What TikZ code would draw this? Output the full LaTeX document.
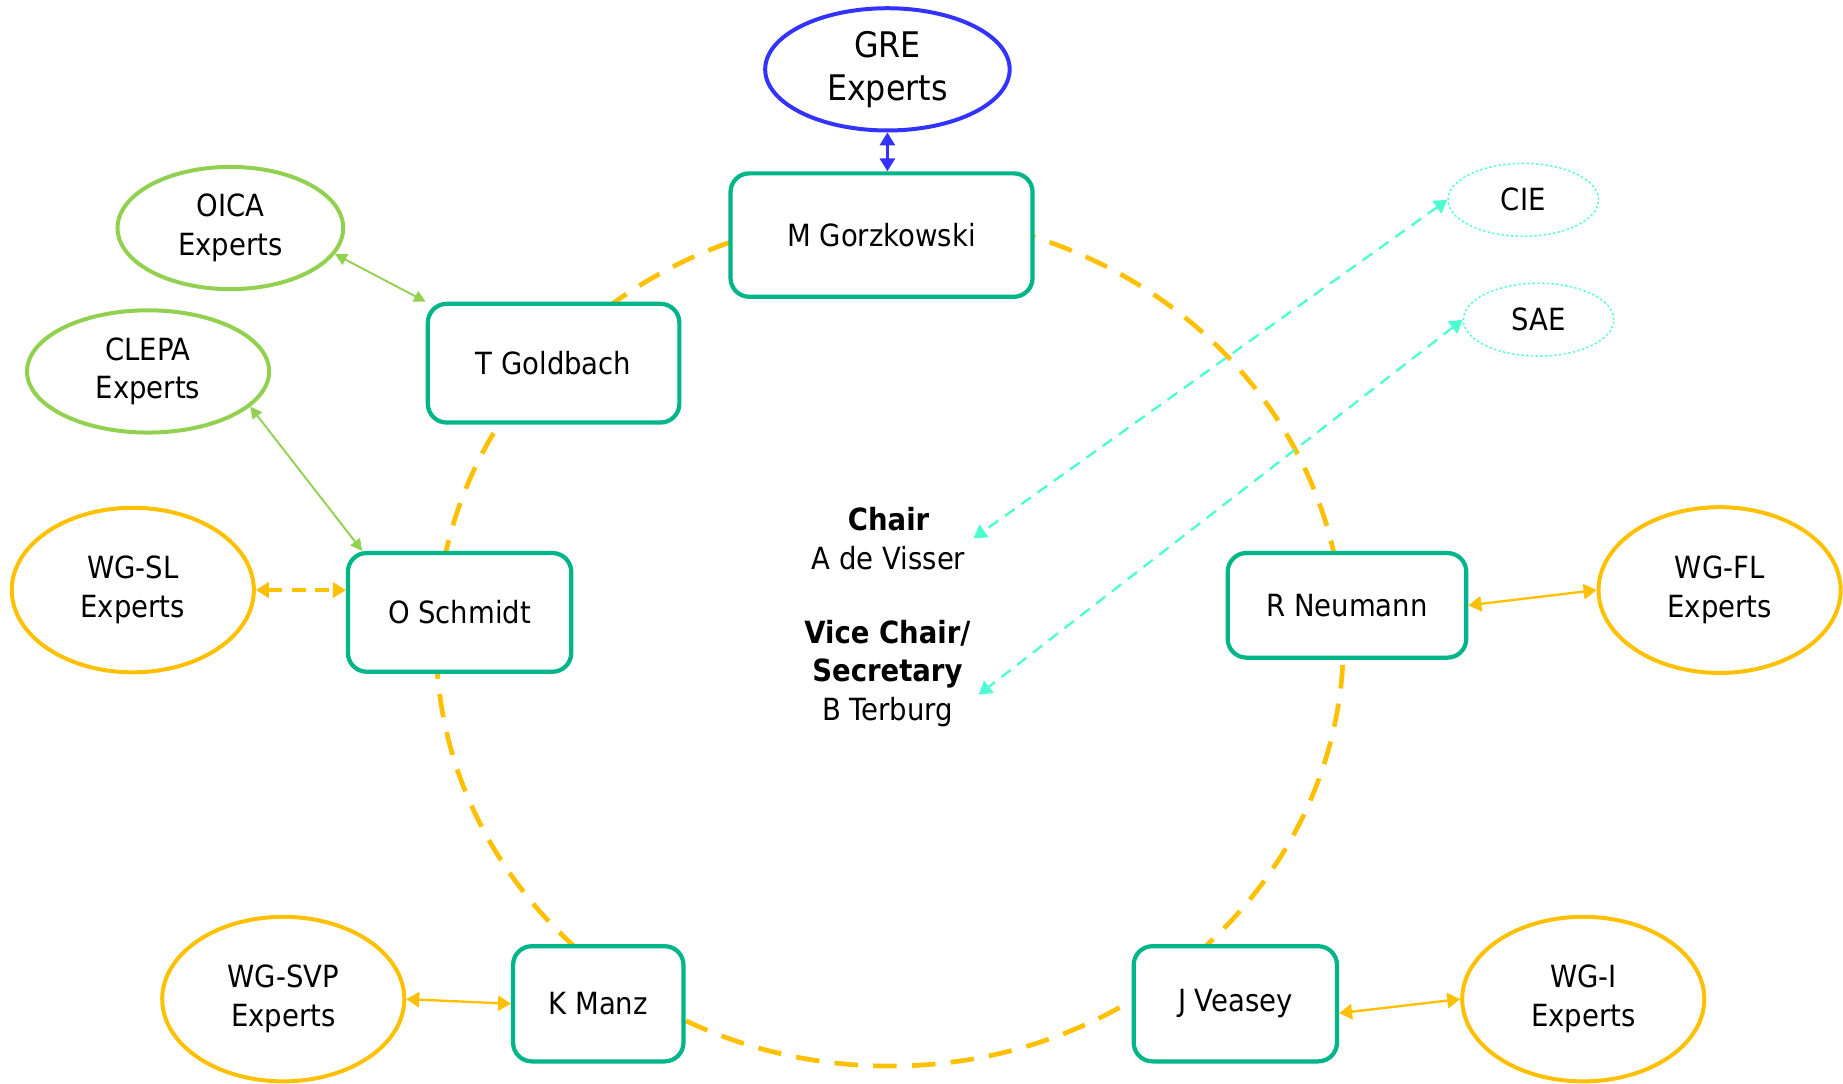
\documentclass[tikz,border=0pt]{standalone}
\usepackage{fontspec}
\setmainfont{DejaVu Sans Condensed}
\usetikzlibrary{shapes.geometric,arrows.meta}
\definecolor{boxgreen}{HTML}{00B589}
\definecolor{wgyellow}{HTML}{FFC000}
\definecolor{orggreen}{HTML}{92D050}
\definecolor{greblue}{HTML}{3333FF}
\definecolor{liaisoncyan}{HTML}{4DFFD1}
\tikzstyle{member}=[draw=boxgreen,line width=1.8pt,fill=white,rounded corners=8pt,inner sep=0pt,font=\fontsize{13}{16.5}\selectfont]
\tikzstyle{experts}=[ellipse,line width=1.7pt,fill=white,inner sep=0pt,align=center,font=\fontsize{13}{16.5}\selectfont]
\tikzstyle{liaison}=[ellipse,draw=liaisoncyan,line width=0.6pt,dash pattern=on 1pt off 1pt,inner sep=0pt,font=\fontsize{13}{16.5}\selectfont]
\tikzstyle{chairs}=[align=center,font=\fontsize{13}{16.5}\selectfont]
\tikzstyle{link}=[{Triangle[length=5pt,width=5pt]}-{Triangle[length=5pt,width=5pt]},line width=0.8pt]
\tikzstyle{biglink}=[{Triangle[length=5.5pt,width=6.5pt]}-{Triangle[length=5.5pt,width=6.5pt]},line width=1pt]

\begin{document}
\begin{tikzpicture}[x=0.5pt,y=-0.5pt]
\useasboundingbox (0,0) rectangle (1568,922);
\draw[wgyellow,line width=2pt,dash pattern=on 10pt off 6.5pt] (757,545) ellipse [x radius=193pt,y radius=181pt];

\node[member,minimum width=128.5pt,minimum height=52.5pt] (gorzkowski) at (750,200) {M Gorzkowski};
\node[member,minimum width=107pt,minimum height=50.5pt] (goldbach) at (471,309) {T Goldbach};
\node[member,minimum width=95pt,minimum height=50.5pt] (schmidt) at (391,521) {O Schmidt};
\node[member,minimum width=101.5pt,minimum height=44.5pt] (neumann) at (1146,515) {R Neumann};
\node[member,minimum width=72.5pt,minimum height=49pt] (manz) at (509,854) {K Manz};
\node[member,minimum width=86.5pt,minimum height=49pt] (veasey) at (1051,854) {J Veasey};

\node[experts,draw=greblue,minimum width=104pt,minimum height=52pt,font=\fontsize{15}{18.5}\selectfont] (gre) at (755,59) {GRE\\Experts};
\node[experts,draw=orggreen,minimum width=96pt,minimum height=52pt] (oica) at (196,194) {OICA\\Experts};
\node[experts,draw=orggreen,minimum width=103pt,minimum height=52pt] (clepa) at (126,316) {CLEPA\\Experts};
\node[experts,draw=wgyellow,minimum width=103pt,minimum height=70pt] (wgsl) at (113,502) {WG-SL\\Experts};
\node[experts,draw=wgyellow,minimum width=103pt,minimum height=70.5pt] (wgfl) at (1463,502) {WG-FL\\Experts};
\node[experts,draw=wgyellow,minimum width=103pt,minimum height=70pt] (wgsvp) at (241,850) {WG-SVP\\Experts};
\node[experts,draw=wgyellow,minimum width=103pt,minimum height=70pt] (wgi) at (1347,850) {WG-I\\Experts};
\node[liaison,minimum width=64pt,minimum height=31pt] (cie) at (1296,170) {CIE};
\node[liaison,minimum width=64pt,minimum height=31pt] (sae) at (1309,272) {SAE};

\node[chairs] (chair) at (756,458) {\textbf{Chair}\\A de Visser};
\node[chairs] (vice) at (755,573) {\textbf{Vice Chair/}\\\textbf{Secretary}\\B Terburg};

\draw[biglink,greblue] (gre.south) -- (gre.south |- gorzkowski.north);
\draw[link,orggreen] (oica.-14) -- (goldbach.north west);
\draw[link,orggreen] (clepa.-19) -- ([xshift=7pt]schmidt.north west);
\draw[biglink,wgyellow,line width=1.5pt,dash pattern=on 6pt off 4pt] (wgsl.east) -- (wgsl.east -| schmidt.west);
\draw[biglink,wgyellow] (neumann.east) -- (wgfl.west);
\draw[biglink,wgyellow] (wgsvp.east) -- (manz.west);
\draw[biglink,wgyellow] ([yshift=-4pt]veasey.east) -- (wgi.west);
\draw[biglink,liaisoncyan,dash pattern=on 5pt off 3.5pt] (cie.west) -- (chair.east);
\draw[biglink,liaisoncyan,dash pattern=on 5pt off 3.5pt] (sae.west) -- ([yshift=-9pt]vice.east);
\end{tikzpicture}
\end{document}
